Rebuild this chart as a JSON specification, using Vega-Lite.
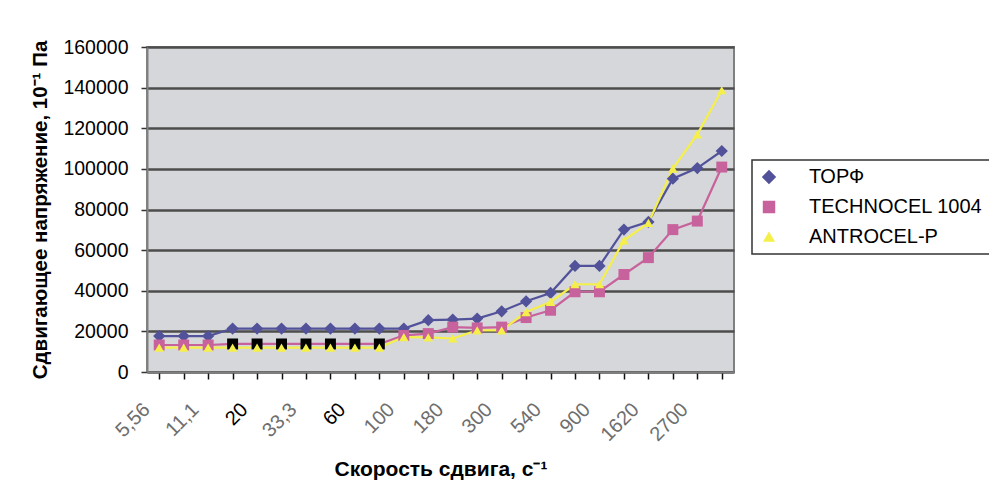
{
  "$schema": "https://vega.github.io/schema/vega-lite/v6.json",
  "width": 587,
  "height": 325,
  "autosize": {"type": "none"},
  "padding": {"left": 147, "top": 47, "right": 255, "bottom": 123},
  "background": "white",
  "data": {
    "values": [
      {"rate": "5,56", "ТОРФ": 17700, "TECHNOCEL 1004": 13300, "ANTROCEL-P": 12000},
      {"rate": "8,33", "ТОРФ": 17700, "TECHNOCEL 1004": 13300, "ANTROCEL-P": 12000},
      {"rate": "11,1", "ТОРФ": 17700, "TECHNOCEL 1004": 13300, "ANTROCEL-P": 12000},
      {"rate": "16,7", "ТОРФ": 21400, "TECHNOCEL 1004": 13800, "ANTROCEL-P": 12000},
      {"rate": "20", "ТОРФ": 21400, "TECHNOCEL 1004": 13800, "ANTROCEL-P": 12000},
      {"rate": "27", "ТОРФ": 21400, "TECHNOCEL 1004": 13800, "ANTROCEL-P": 12000},
      {"rate": "33,3", "ТОРФ": 21400, "TECHNOCEL 1004": 13800, "ANTROCEL-P": 12000},
      {"rate": "48,6", "ТОРФ": 21400, "TECHNOCEL 1004": 13800, "ANTROCEL-P": 12000},
      {"rate": "60", "ТОРФ": 21400, "TECHNOCEL 1004": 13800, "ANTROCEL-P": 12000},
      {"rate": "81", "ТОРФ": 21400, "TECHNOCEL 1004": 13800, "ANTROCEL-P": 12000},
      {"rate": "100", "ТОРФ": 21400, "TECHNOCEL 1004": 18000, "ANTROCEL-P": 17200},
      {"rate": "146", "ТОРФ": 25500, "TECHNOCEL 1004": 18900, "ANTROCEL-P": 17000},
      {"rate": "180", "ТОРФ": 25800, "TECHNOCEL 1004": 22100, "ANTROCEL-P": 16500},
      {"rate": "243", "ТОРФ": 26300, "TECHNOCEL 1004": 21700, "ANTROCEL-P": 20500},
      {"rate": "300", "ТОРФ": 29900, "TECHNOCEL 1004": 22100, "ANTROCEL-P": 20500},
      {"rate": "437", "ТОРФ": 34800, "TECHNOCEL 1004": 26800, "ANTROCEL-P": 29500},
      {"rate": "540", "ТОРФ": 38900, "TECHNOCEL 1004": 30400, "ANTROCEL-P": 34500},
      {"rate": "729", "ТОРФ": 52200, "TECHNOCEL 1004": 39500, "ANTROCEL-P": 43200},
      {"rate": "900", "ТОРФ": 52200, "TECHNOCEL 1004": 39500, "ANTROCEL-P": 43200},
      {"rate": "1312", "ТОРФ": 70100, "TECHNOCEL 1004": 48000, "ANTROCEL-P": 64800},
      {"rate": "1620", "ТОРФ": 73900, "TECHNOCEL 1004": 56300, "ANTROCEL-P": 73400},
      {"rate": "2187", "ТОРФ": 95200, "TECHNOCEL 1004": 70100, "ANTROCEL-P": 100100},
      {"rate": "2700", "ТОРФ": 100400, "TECHNOCEL 1004": 74300, "ANTROCEL-P": 117000},
      {"rate": "4860", "ТОРФ": 108800, "TECHNOCEL 1004": 100900, "ANTROCEL-P": 138700}
    ]
  },
  "transform": [
    {"fold": ["ТОРФ", "TECHNOCEL 1004", "ANTROCEL-P"], "as": ["series", "value"]}
  ],
  "encoding": {
    "x": {
      "field": "rate",
      "type": "nominal",
      "sort": null,
      "scale": {"paddingInner": 0, "paddingOuter": 0},
      "axis": {
        "title": "Скорость сдвига, с⁻¹",
        "bandPosition": 0,
        "labelAngle": -45,
        "labelExpr": "indexof(['5,56','11,1','20','33,3','60','100','180','300','540','900','1620','2700'], datum.value) >= 0 ? datum.value : ''",
        "labelColor": {
          "condition": {"test": "datum.value === '20' || datum.value === '60'", "value": "#000000"},
          "value": "#6e6e6e"
        },
        "labelFont": "Liberation Sans",
        "labelFontSize": 20,
        "labelPadding": 20,
        "labelOffset": -20,
        "tickSize": 7,
        "tickColor": "#111111",
        "tickWidth": 1.5,
        "domainColor": "#808080",
        "domainWidth": 2,
        "grid": false,
        "titleFont": "Liberation Sans",
        "titleFontSize": 21,
        "titleFontWeight": "bold",
        "titleColor": "#000000",
        "titlePadding": 14
      }
    },
    "y": {
      "field": "value",
      "type": "quantitative",
      "scale": {"domain": [0, 160000], "nice": false},
      "axis": {
        "title": "Сдвигающее напряжение, 10⁻¹ Па",
        "values": [0, 20000, 40000, 60000, 80000, 100000, 120000, 140000, 160000],
        "format": "d",
        "labelFont": "Liberation Sans",
        "labelFontSize": 19.5,
        "labelColor": "#000000",
        "labelPadding": 13,
        "tickSize": 6,
        "tickColor": "#333333",
        "tickWidth": 1.5,
        "domainColor": "#808080",
        "domainWidth": 2,
        "grid": true,
        "gridColor": "#4d4d4d",
        "gridWidth": 2.5,
        "titleFont": "Liberation Sans",
        "titleFontSize": 20.5,
        "titleFontWeight": "bold",
        "titleColor": "#000000",
        "titlePadding": 12
      }
    },
    "color": {
      "field": "series",
      "type": "nominal",
      "scale": {
        "domain": ["ТОРФ", "TECHNOCEL 1004", "ANTROCEL-P"],
        "range": ["#52529a", "#c8629c", "#f4ef4a"]
      },
      "legend": {
        "title": null,
        "orient": "none",
        "legendX": 605,
        "legendY": 113,
        "padding": 7,
        "fillColor": "#ffffff",
        "strokeColor": "#333333",
        "labelFont": "Liberation Sans",
        "labelFontSize": 20,
        "labelColor": "#000000",
        "labelLimit": 0,
        "labelOffset": 30,
        "rowPadding": 10,
        "symbolSize": 144,
        "symbolOpacity": 1
      }
    }
  },
  "layer": [
    {
      "mark": {"type": "line", "strokeWidth": 2.2},
      "encoding": {}
    },
    {
      "mark": {"type": "point", "filled": true, "opacity": 1},
      "encoding": {
        "shape": {
          "field": "series",
          "type": "nominal",
          "scale": {
            "domain": ["ТОРФ", "TECHNOCEL 1004", "ANTROCEL-P"],
            "range": ["diamond", "square", "triangle-up"]
          },
          "legend": {
            "title": null,
            "orient": "none",
            "legendX": 605,
            "legendY": 113
          }
        },
        "size": {
          "field": "series",
          "type": "nominal",
          "scale": {
            "domain": ["ТОРФ", "TECHNOCEL 1004", "ANTROCEL-P"],
            "range": [150, 90, 150]
          },
          "legend": null
        },
        "color": {
          "condition": {
            "test": "datum.series === 'TECHNOCEL 1004' && indexof(['16,7','20','27','33,3','48,6','60','81'], datum.rate) >= 0",
            "value": "#000000"
          },
          "field": "series",
          "type": "nominal",
          "legend": {
            "title": null,
            "orient": "none",
            "legendX": 605,
            "legendY": 113,
            "padding": 7,
            "fillColor": "#ffffff",
            "strokeColor": "#333333",
            "labelFont": "Liberation Sans",
            "labelFontSize": 20,
            "labelColor": "#000000",
            "labelLimit": 0,
            "labelOffset": 30,
            "rowPadding": 10,
            "symbolSize": 144,
            "symbolOpacity": 1
          }
        }
      }
    }
  ],
  "config": {
    "view": {"fill": "#d5d7da", "stroke": "#808080", "strokeWidth": 2},
    "font": "Liberation Sans",
    "legend": {"strokeWidth": 1.5}
  }
}
